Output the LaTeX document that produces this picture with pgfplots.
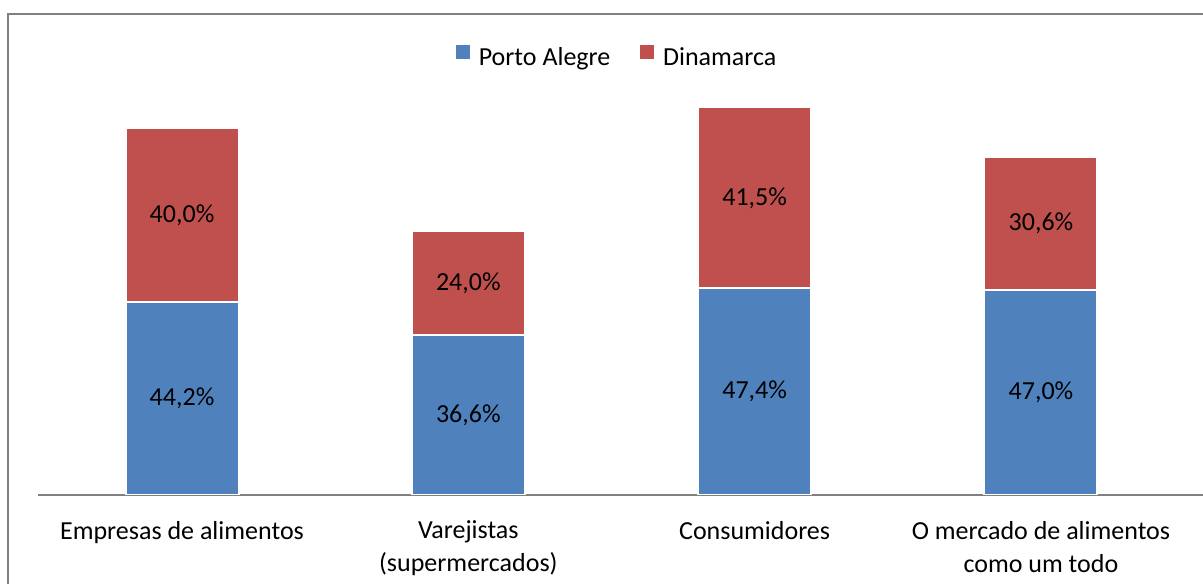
\documentclass[border=0pt]{standalone}
\usepackage{pgfplots}
\pgfplotsset{compat=1.18}
\usepackage{fontspec}
\setmainfont{Carlito}
\definecolor{paBlue}{HTML}{4F81BD}
\definecolor{dkRed}{HTML}{C0504D}
\definecolor{frameGray}{HTML}{808080}
\begin{document}
\begin{tikzpicture}[font=\fontsize{13}{16}\selectfont]
\useasboundingbox (0,0) rectangle (601.5pt,291.5pt);
\clip (0,0) rectangle (601.5pt,291.5pt);
% chart area border (cut off at right and bottom)
\draw[frameGray, line width=1pt] (4pt,-5pt) |- (610pt,284.5pt);
\begin{axis}[
    at={(19pt,44pt)}, anchor=south west,
    scale only axis,
    width=582.5pt, height=218pt,
    ybar stacked,
    bar width=56.5pt,
    xmin=-0.503, xmax=3.566,
    ymin=0, ymax=100,
    axis x line*=bottom,
    axis y line=none,
    x axis line style={frameGray, line width=1pt, -},
    major tick length=0pt,
    xtick={0,1,2,3},
    xticklabels={Empresas de alimentos, {Varejistas\\(supermercados)}, Consumidores, {O mercado de alimentos\\como um todo}},
    xticklabel style={align=center, anchor=north, yshift=-9.5pt, font=\fontsize{13}{16.5}\selectfont},
    visualization depends on=rawy \as \rawy,
    nodes near coords={\pgfmathprintnumber[fixed,fixed zerofill,precision=1,use comma,assume math mode=true]{\rawy}\%},
    every node near coord/.append style={anchor=center, black, font=\fontsize{13}{16}\selectfont},
    legend style={at={(0.498,1.003)}, anchor=center, legend columns=2, draw=none, fill=none,
        font=\fontsize{13}{16}\selectfont,
        /tikz/every even column/.append style={column sep=13pt}},
    legend entries={\hspace{2.5pt}Porto Alegre, \hspace{2.5pt}Dinamarca},
]
\addlegendimage{legend image code/.code={\fill[paBlue] (-3.5pt,-0.5pt) rectangle (3pt,6pt);}}
\addlegendimage{legend image code/.code={\fill[dkRed] (-3.5pt,-0.5pt) rectangle (3pt,6pt);}}
\addplot[fill=paBlue, draw=white, line width=1pt]
    coordinates {(0,44.2) (1,36.6) (2,47.4) (3,47.0)};
\addplot[fill=dkRed, draw=white, line width=1pt]
    coordinates {(0,40.0) (1,24.0) (2,41.5) (3,30.6)};
\end{axis}
\end{tikzpicture}
\end{document}
